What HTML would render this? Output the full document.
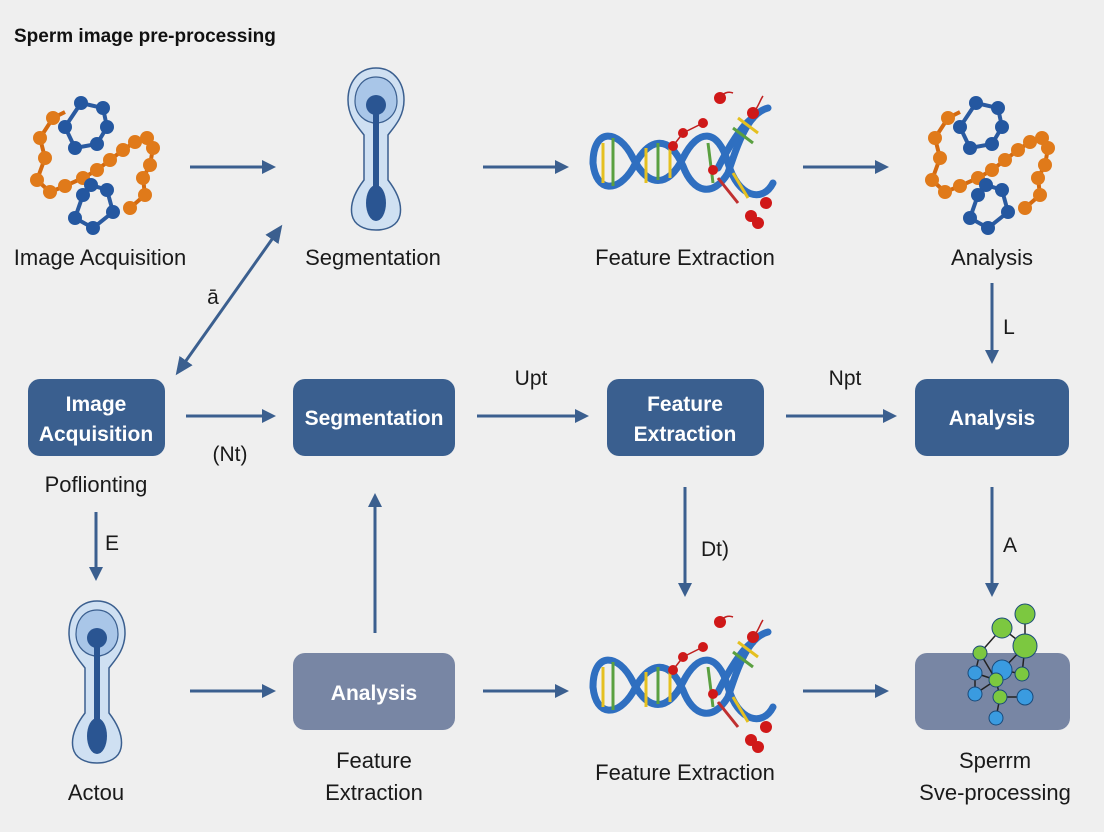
<!DOCTYPE html>
<html><head><meta charset="utf-8"><style>
html,body{margin:0;padding:0;background:#efefef;}
svg{display:block;font-family:"Liberation Sans","DejaVu Sans",sans-serif;}
</style></head><body>
<svg width="1104" height="832" viewBox="0 0 1104 832" xmlns="http://www.w3.org/2000/svg">
<defs>
<marker id="ah" markerWidth="14" markerHeight="14" refX="10" refY="7" orient="auto" markerUnits="userSpaceOnUse" viewBox="0 0 14 14">
<path d="M0,0 L14,7 L0,14 z" fill="#3b5f8f"/></marker>
<marker id="ah2" markerWidth="18" markerHeight="16" refX="14" refY="8" orient="auto-start-reverse" markerUnits="userSpaceOnUse">
<path d="M0,0 L18,8 L0,16 z" fill="#3b5f8f"/></marker>
<g id="mol">
<g stroke="#d46a10" stroke-width="4" fill="none">
<path d="M-42,-32 L-55,-12 L-50,8 L-58,30 L-45,42 L-30,36 L-12,28 L2,20 L15,10 L28,0 L40,-8 L52,-12 L58,-2 L55,15 L48,28 L50,45 L35,58"/>
<path d="M-42,-32 L-30,-38"/>
</g>
<g fill="#e07a1a">
<circle cx="-42" cy="-32" r="7"/><circle cx="-55" cy="-12" r="7"/><circle cx="-50" cy="8" r="7"/><circle cx="-58" cy="30" r="7"/><circle cx="-45" cy="42" r="7"/><circle cx="-30" cy="36" r="7"/><circle cx="-12" cy="28" r="7"/><circle cx="2" cy="20" r="7"/><circle cx="15" cy="10" r="7"/><circle cx="28" cy="0" r="7"/><circle cx="40" cy="-8" r="7"/><circle cx="52" cy="-12" r="7"/><circle cx="58" cy="-2" r="7"/><circle cx="55" cy="15" r="7"/><circle cx="48" cy="28" r="7"/><circle cx="50" cy="45" r="7"/><circle cx="35" cy="58" r="7"/>
</g>
<g stroke="#2a5aa0" stroke-width="4" fill="none">
<path d="M-14,-47 L-30,-23 L-20,-2 L2,-6 L12,-23 L8,-42 Z"/>
<path d="M-4,35 L-12,45 L-20,68 L-2,78 L18,62 L12,40 Z"/>
</g>
<g fill="#2457a0">
<circle cx="-14" cy="-47" r="7"/><circle cx="-30" cy="-23" r="7"/><circle cx="-20" cy="-2" r="7"/><circle cx="2" cy="-6" r="7"/><circle cx="12" cy="-23" r="7"/><circle cx="8" cy="-42" r="7"/>
<circle cx="-4" cy="35" r="7"/><circle cx="-12" cy="45" r="7"/><circle cx="-20" cy="68" r="7"/><circle cx="-2" cy="78" r="7"/><circle cx="18" cy="62" r="7"/><circle cx="12" cy="40" r="7"/>
</g>
</g>
<g id="sperm">
<path d="M0,-77 C-18,-77 -28,-62 -28,-45 C-28,-28 -18,-18 -12,-10 L-12,35 C-22,48 -26,60 -24,70 C-22,80 -12,85 0,85 C12,85 22,80 24,70 C26,60 22,48 12,35 L12,-10 C18,-18 28,-28 28,-45 C28,-62 18,-77 0,-77 Z" fill="#cfe0f2" stroke="#3b5f8f" stroke-width="1.5"/>
<path d="M0,-68 C-14,-68 -21,-56 -21,-44 C-21,-30 -10,-22 0,-22 C10,-22 21,-30 21,-44 C21,-56 14,-68 0,-68 Z" fill="#a9c6e8" stroke="#3b5f8f" stroke-width="1.2"/>
<circle cx="0" cy="-40" r="10" fill="#2a5592"/>
<path d="M-3,-35 L-3,45 L3,45 L3,-35 Z" fill="#2a5592"/>
<ellipse cx="0" cy="58" rx="10" ry="18" fill="#2a5592"/>
</g>
<g id="dna">
<g stroke="#2f6fc0" stroke-width="7" fill="none" stroke-linecap="round">
<path d="M5,75 C5,40 30,40 45,70 C60,100 80,100 95,70 C110,40 130,40 140,75 C150,110 175,115 185,95"/>
<path d="M5,75 C8,105 30,105 45,80 C60,50 80,45 95,78 C105,105 125,110 140,85 C150,55 160,25 180,20"/>
<path d="M130,80 C140,60 155,35 165,30"/>
</g>
<g stroke-width="3">
<line x1="15" y1="55" x2="15" y2="95" stroke="#e5c020"/><line x1="25" y1="50" x2="25" y2="98" stroke="#5aa040"/>
<line x1="58" y1="60" x2="58" y2="95" stroke="#e5c020"/><line x1="70" y1="55" x2="70" y2="92" stroke="#5aa040"/><line x1="82" y1="58" x2="82" y2="90" stroke="#e5c020"/>
<line x1="120" y1="55" x2="125" y2="95" stroke="#5aa040"/><line x1="130" y1="90" x2="150" y2="115" stroke="#c03030"/><line x1="145" y1="85" x2="160" y2="110" stroke="#e5c020"/>
<line x1="150" y1="30" x2="170" y2="45" stroke="#e5c020"/><line x1="145" y1="40" x2="165" y2="55" stroke="#5aa040"/>
</g>
<g fill="#d01818">
<circle cx="132" cy="10" r="6"/><circle cx="165" cy="25" r="6"/><circle cx="115" cy="35" r="5"/><circle cx="95" cy="45" r="5"/><circle cx="85" cy="58" r="5"/><circle cx="125" cy="82" r="5"/><circle cx="178" cy="115" r="6"/><circle cx="163" cy="128" r="6"/><circle cx="170" cy="135" r="6"/>
</g>
<path d="M132,10 C135,5 140,3 145,5 M165,25 C170,20 172,12 175,8 M85,58 L95,45 L115,35" stroke="#c02020" stroke-width="1.5" fill="none"/>
</g>
</defs>

<text x="14" y="42" font-size="19" font-weight="bold" fill="#111">Sperm image pre-processing</text>

<use href="#mol" x="95" y="150"/>
<use href="#sperm" x="376" y="145"/>
<use href="#dna" x="588" y="88"/>
<use href="#mol" x="990" y="150"/>
<g font-size="22" fill="#1a1a1a" text-anchor="middle">
<text x="100" y="265">Image Acquisition</text>
<text x="373" y="265">Segmentation</text>
<text x="685" y="265">Feature Extraction</text>
<text x="992" y="265">Analysis</text>
</g>
<g stroke="#3b5f8f" stroke-width="3" marker-end="url(#ah)">
<line x1="190" y1="167" x2="272" y2="167"/>
<line x1="483" y1="167" x2="565" y2="167"/>
<line x1="803" y1="167" x2="885" y2="167"/>
<line x1="992" y1="283" x2="992" y2="360"/>
<line x1="186" y1="416" x2="272" y2="416"/>
<line x1="477" y1="416" x2="585" y2="416"/>
<line x1="786" y1="416" x2="893" y2="416"/>
<line x1="96" y1="512" x2="96" y2="577"/>
<line x1="375" y1="633" x2="375" y2="497"/>
<line x1="685" y1="487" x2="685" y2="593"/>
<line x1="992" y1="487" x2="992" y2="593"/>
<line x1="190" y1="691" x2="272" y2="691"/>
<line x1="483" y1="691" x2="565" y2="691"/>
<line x1="803" y1="691" x2="885" y2="691"/>
</g>
<line x1="280" y1="228" x2="178" y2="372" stroke="#3b5f8f" stroke-width="3" marker-start="url(#ah2)" marker-end="url(#ah2)"/>

<g font-size="21" fill="#1a1a1a" text-anchor="middle">
<text x="213" y="304">ā</text>
<text x="1009" y="334">L</text>
<text x="230" y="461">(Nt)</text>
<text x="531" y="385">Upt</text>
<text x="845" y="385">Npt</text>
<text x="112" y="550">E</text>
<text x="715" y="556">Dt)</text>
<text x="1010" y="552">A</text>
</g>

<g fill="#3a5f8f">
<rect x="28" y="379" width="137" height="77" rx="12"/>
<rect x="293" y="379" width="162" height="77" rx="12"/>
<rect x="607" y="379" width="157" height="77" rx="12"/>
<rect x="915" y="379" width="154" height="77" rx="12"/>
</g>
<g font-size="21" font-weight="bold" fill="#fff" text-anchor="middle">
<text x="96" y="411">Image</text>
<text x="96" y="441">Acquisition</text>
<text x="374" y="425">Segmentation</text>
<text x="685" y="411">Feature</text>
<text x="685" y="441">Extraction</text>
<text x="992" y="425">Analysis</text>
</g>
<text x="96" y="492" font-size="22" fill="#1a1a1a" text-anchor="middle">Poflionting</text>

<use href="#sperm" x="97" y="678"/>
<rect x="293" y="653" width="162" height="77" rx="12" fill="#7886a4"/>
<text x="374" y="700" font-size="21" font-weight="bold" fill="#fff" text-anchor="middle">Analysis</text>
<use href="#dna" x="588" y="612"/>
<rect x="915" y="653" width="155" height="77" rx="12" fill="#7886a4"/>
<g stroke="#222" stroke-width="1.5">
<line x1="980" y1="653" x2="1002" y2="628"/><line x1="1002" y1="628" x2="1025" y2="646"/><line x1="1025" y1="614" x2="1025" y2="646"/>
<line x1="980" y1="653" x2="975" y2="673"/><line x1="980" y1="653" x2="996" y2="680"/><line x1="1025" y1="646" x2="1002" y2="670"/><line x1="1025" y1="646" x2="1022" y2="674"/>
<line x1="975" y1="673" x2="996" y2="680"/><line x1="1002" y1="670" x2="1022" y2="674"/><line x1="996" y1="680" x2="975" y2="694"/><line x1="996" y1="680" x2="1000" y2="697"/><line x1="1000" y1="697" x2="1025" y2="697"/><line x1="1000" y1="697" x2="996" y2="718"/><line x1="975" y1="673" x2="975" y2="694"/>
</g>
<g stroke="#1a4a7a" stroke-width="1">
<circle cx="1002" cy="628" r="10" fill="#7cc840"/><circle cx="1025" cy="614" r="10" fill="#7cc840"/><circle cx="1025" cy="646" r="12" fill="#7cc840"/><circle cx="980" cy="653" r="7" fill="#7cc840"/>
<circle cx="1002" cy="670" r="10" fill="#3a9be0"/><circle cx="1022" cy="674" r="7" fill="#7cc840"/><circle cx="975" cy="673" r="7" fill="#3a9be0"/><circle cx="996" cy="680" r="7" fill="#7cc840"/>
<circle cx="975" cy="694" r="7" fill="#3a9be0"/><circle cx="1000" cy="697" r="7" fill="#7cc840"/><circle cx="1025" cy="697" r="8" fill="#3a9be0"/><circle cx="996" cy="718" r="7" fill="#3a9be0"/>
</g>
<g font-size="22" fill="#1a1a1a" text-anchor="middle">
<text x="96" y="800">Actou</text>
<text x="374" y="768">Feature</text>
<text x="374" y="800">Extraction</text>
<text x="685" y="780">Feature Extraction</text>
<text x="995" y="768">Sperrm</text>
<text x="995" y="800">Sve-processing</text>
</g>
</svg>
</body></html>
